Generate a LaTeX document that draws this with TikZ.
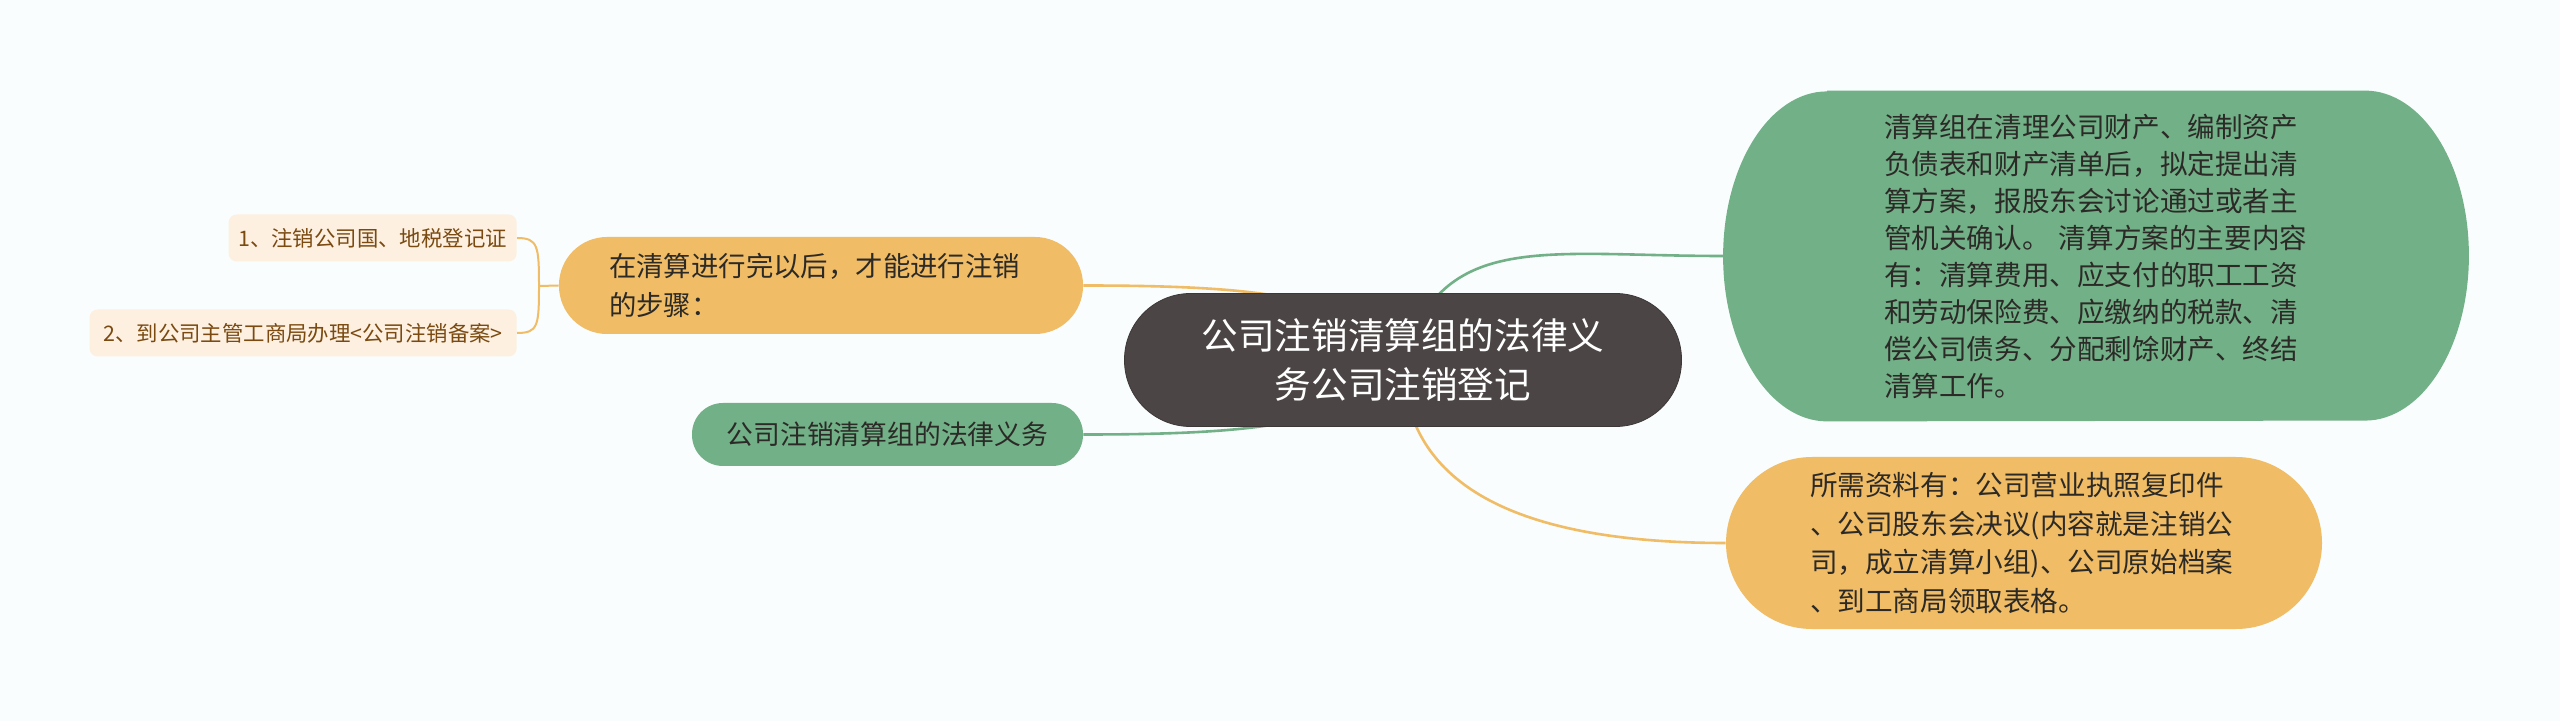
\documentclass[tikz,border=0pt]{standalone}
\usepackage{fontspec}
\setmainfont{Noto Sans CJK SC}
\usetikzlibrary{backgrounds}
\definecolor{paper}{HTML}{F9FDFD}
\definecolor{hub}{HTML}{4B4645}
\definecolor{sage}{HTML}{72B087}
\definecolor{amber}{HTML}{F0BC65}
\definecolor{cream}{HTML}{FDF0E1}
\definecolor{ink}{HTML}{2C2A27}
\definecolor{bark}{HTML}{7A4A10}

\begin{document}
\begin{tikzpicture}[x=0.5pt,y=-0.5pt,
    topic/.style={fill=hub,draw=hub!80!black,line width=0.4pt,text=white,rounded corners=33pt,
      minimum width=278.5pt,minimum height=66.5pt,align=center,inner sep=0pt,
      font=\fontsize{18.3}{24.5}\selectfont},
    branch/.style={text=ink,inner sep=0pt,align=left,font=\fontsize{13.8}{18.5}\selectfont},
    leaf/.style={fill=cream,text=bark,rounded corners=4pt,inner sep=0pt,minimum height=23.5pt,
      anchor=east,font=\fontsize{10.7}{13}\selectfont},
    sagelink/.style={draw=sage,line width=1.3pt},
    amberlink/.style={draw=amber,line width=1.3pt}]

    \useasboundingbox (0,0) rectangle (2560,721);

    % central topic
    \node[topic] (cen) at (1403,360) {公司注销清算组的法律义\\务公司注销登记};

    % left side
    \node[branch,fill=amber,rounded corners=24pt,minimum width=262pt,minimum height=48.5pt,
      text width=212pt,font=\fontsize{13.7}{19.5}\selectfont] (steps) at (821,285.5)
      {在清算进行完以后，才能进行注销\\的步骤：};
    \node[branch,fill=sage,rounded corners=15.5pt,minimum width=195.5pt,minimum height=31.5pt,
      align=center,font=\fontsize{13.4}{16}\selectfont] (duty) at (887.5,434.5)
      {公司注销清算组的法律义务};
    \node[leaf,minimum width=144pt] (reg) at (517,238) {1、注销公司国、地税登记证};
    \node[leaf,minimum width=213.5pt] (filing) at (517,333) {2、到公司主管工商局办理<公司注销备案>};
    \coordinate (fork) at (539,286);

    % right side
    \node[branch,text width=212pt,minimum width=372.5pt,minimum height=165pt] (plan) at (2096,256)
      {清算组在清理公司财产、编制资产\\
       负债表和财产清单后，拟定提出清\\
       算方案，报股东会讨论通过或者主\\
       管机关确认。 清算方案的主要内容\\
       有：清算费用、应支付的职工工资\\
       和劳动保险费、应缴纳的税款、清\\
       偿公司债务、分配剩馀财产、终结\\
       清算工作。};
    \node[branch,fill=amber,rounded corners=43pt,minimum width=298pt,minimum height=86pt,
      text width=214pt,font=\fontsize{13.8}{19.3}\selectfont] (docs) at (2024,543)
      {所需资料有：公司营业执照复印件\\
       、公司股东会决议(内容就是注销公\\
       司，成立清算小组)、公司原始档案\\
       、到工商局领取表格。};

    \begin{pgfonlayer}{background}
      \fill[paper] (0,0) rectangle (2560,721);
      \fill[sage] ([xshift=52pt]plan.north west) -- ([xshift=-52pt]plan.north east)
        arc[start angle=90,end angle=-90,x radius=52pt,y radius=82.5pt]
        -- ([xshift=52pt]plan.south west)
        arc[start angle=270,end angle=90,x radius=52pt,y radius=82.5pt] -- cycle;
      % connectors
      \draw[amberlink] (steps.east) .. controls +(200,0) and +(-53,-60) .. (cen.center);
      \draw[sagelink] (duty.east) .. controls +(200,0) and +(-53,60) .. (cen.center);
      \draw[sagelink] (cen.center) .. controls +(40,-130) and +(-180,0) .. (plan.west);
      \draw[amberlink] (cen.center) .. controls +(0,130) and +(-200,0) .. (docs.west);
      \draw[amberlink,line width=1pt] (steps.west) -- (fork);
      \draw[amberlink,line width=1pt] (fork) .. controls +(0,-40) and +(21,0) .. (reg.east);
      \draw[amberlink,line width=1pt] (fork) .. controls +(0,40) and +(21,0) .. (filing.east);
    \end{pgfonlayer}
\end{tikzpicture}
\end{document}
